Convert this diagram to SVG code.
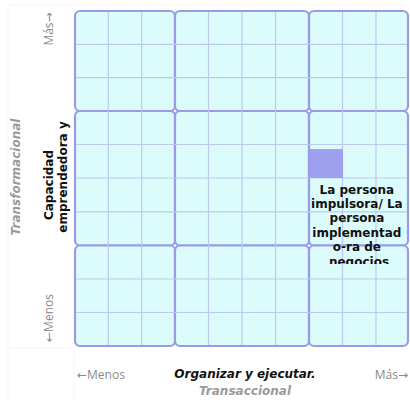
<svg xmlns="http://www.w3.org/2000/svg" width="410" height="403" viewBox="0 0 410 403">
<style>
.blk{fill:#dcfcfc;stroke:#9a9ae8;stroke-width:2.2}
.mn{stroke:#bcc8ee;stroke-width:1.2;fill:none}
.ax{font-family:"Open Sans","DejaVu Sans",sans-serif;font-size:12px;fill:#8a8a8a}
.ttl{font-family:"DejaVu Sans",sans-serif;font-size:12px;font-weight:bold;font-style:italic;fill:#9a9a9a}
.lbl{font-family:"DejaVu Sans",sans-serif;font-size:12px;font-weight:bold;fill:#111}
.frame{stroke:#f6f6f6;stroke-width:1;fill:none}
</style>
<defs>
<clipPath id="nodeclip"><rect x="309" y="144" width="100" height="120"/></clipPath>
</defs>
<rect width="410" height="403" fill="#ffffff"/>
<g id="frame">
<line class="frame" x1="8" y1="5" x2="408" y2="5"/>
<line class="frame" x1="8" y1="5" x2="8" y2="400"/>
<line class="frame" x1="8" y1="348" x2="74" y2="348"/>
<line class="frame" x1="74" y1="348" x2="74" y2="400"/>
</g>
<g id="grid">
<rect class="blk" x="75" y="11" width="100" height="100" rx="5"/>
<rect class="blk" x="175" y="11" width="134" height="100" rx="5"/>
<rect class="blk" x="309" y="11" width="99" height="100" rx="5"/>
<rect class="blk" x="75" y="111" width="100" height="134.5" rx="5"/>
<rect class="blk" x="175" y="111" width="134" height="134.5" rx="5"/>
<rect class="blk" x="309" y="111" width="99" height="134.5" rx="5"/>
<rect class="blk" x="75" y="245.5" width="100" height="100.5" rx="5"/>
<rect class="blk" x="175" y="245.5" width="134" height="100.5" rx="5"/>
<rect class="blk" x="309" y="245.5" width="99" height="100.5" rx="5"/>
<path class="mn" d="M108.3 12V345M141.7 12V345M208.5 12V345M242 12V345M275.5 12V345M342.5 12V345M376 12V345M76 44.3H407M76 77.7H407M76 144.5H407M76 178H407M76 211.8H407M76 279H407M76 312.5H407"/>
</g>
<g id="axis-labels">
<text class="ax" transform="translate(53,29) rotate(-90)" text-anchor="middle">Más→</text>
<text class="ax" transform="translate(53,318) rotate(-90)" text-anchor="middle">←Menos</text>
<text class="ttl" transform="translate(20,177) rotate(-90)" text-anchor="middle">Transformacional</text>
<text class="lbl" transform="translate(53,185) rotate(-90)" text-anchor="middle">Capacidad</text>
<text class="lbl" transform="translate(67,177) rotate(-90)" text-anchor="middle">emprendedora y</text>
<text class="ax" x="77" y="379">←Menos</text>
<text class="ax" x="408" y="379" text-anchor="end">Más→</text>
<text class="lbl" x="245" y="378" text-anchor="middle" font-style="italic">Organizar y ejecutar.</text>
<text class="ttl" x="245" y="395" text-anchor="middle">Transaccional</text>
</g>
<g id="node-persona">
<rect x="310" y="149" width="33" height="29" fill="#a0a0f0"/>
<text class="lbl" text-anchor="middle" clip-path="url(#nodeclip)">
<tspan x="359" y="193.5">La persona</tspan>
<tspan x="359" y="208">impulsora/ La</tspan>
<tspan x="359" y="222">persona</tspan>
<tspan x="359" y="236.5">implementad</tspan>
<tspan x="359" y="251">o-ra de</tspan>
<tspan x="359" y="265.5">negocios</tspan>
</text>
</g>
</svg>
